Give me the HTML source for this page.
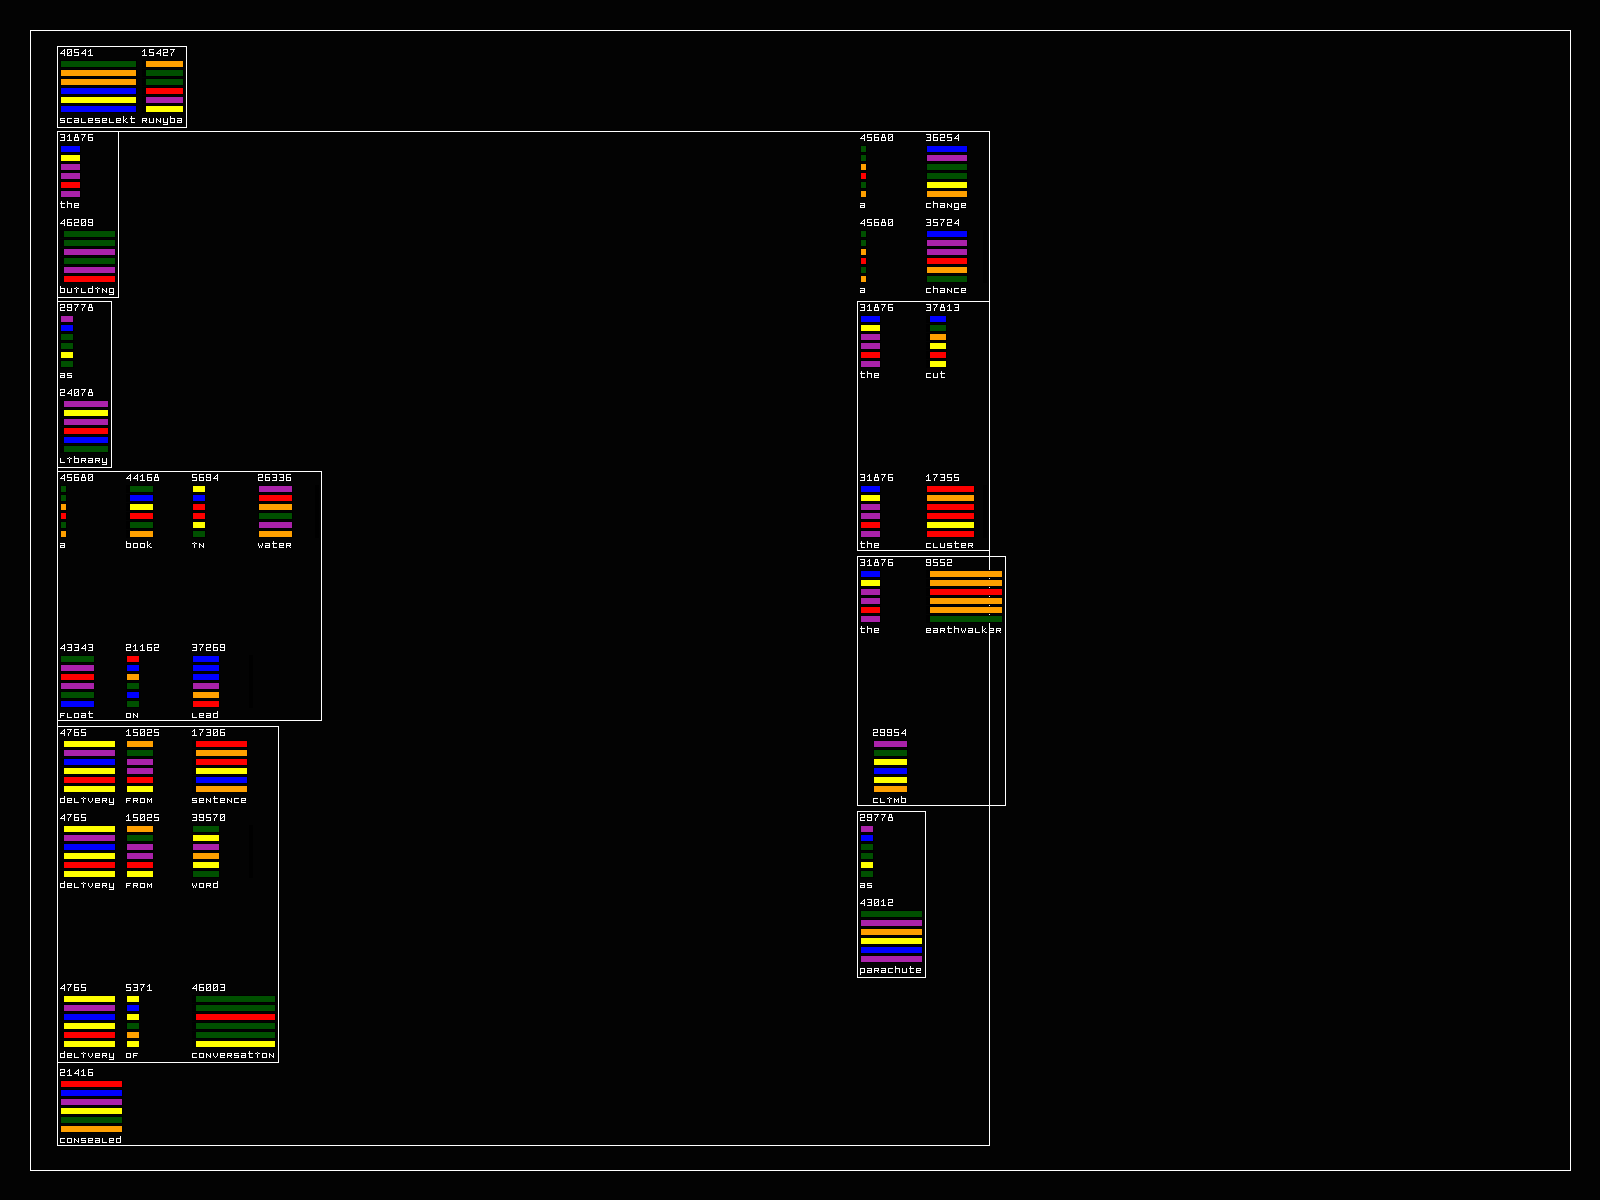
<!DOCTYPE html>
<html lang="en"><head><meta charset="utf-8"><title>token diagram</title>
<style>
html,body{margin:0;padding:0;background:#030303;overflow:hidden;font-family:"Liberation Mono",monospace}
svg{display:block;position:absolute;left:0;top:0}
.bx{fill:none;stroke:#fff;stroke-width:1}
.t{fill:#fff}
.k{fill:#000}
</style></head><body>
<svg width="1600" height="1200" viewBox="0 0 1600 1200" shape-rendering="crispEdges">
<defs>
<path id="g0" d="M0 0h5v1h-5zM0 1h1v1h-1zM4 1h1v1h-1zM0 2h1v1h-1zM3 2h2v1h-2zM0 3h1v1h-1zM2 3h1v1h-1zM4 3h1v1h-1zM0 4h2v1h-2zM4 4h1v1h-1zM0 5h1v1h-1zM4 5h1v1h-1zM0 6h5v1h-5z"/>
<path id="g1" d="M2 0h1v1h-1zM1 1h2v1h-2zM0 2h1v1h-1zM2 2h1v1h-1zM2 3h1v1h-1zM2 4h1v1h-1zM2 5h1v1h-1zM0 6h5v1h-5z"/>
<path id="g2" d="M0 0h5v1h-5zM0 1h1v1h-1zM4 1h1v1h-1zM4 2h1v1h-1zM0 3h5v1h-5zM0 4h1v1h-1zM0 5h1v1h-1zM0 6h5v1h-5z"/>
<path id="g3" d="M0 0h5v1h-5zM4 1h1v1h-1zM4 2h1v1h-1zM1 3h4v1h-4zM4 4h1v1h-1zM4 5h1v1h-1zM0 6h5v1h-5z"/>
<path id="g4" d="M4 0h1v1h-1zM3 1h2v1h-2zM2 2h1v1h-1zM4 2h1v1h-1zM1 3h1v1h-1zM4 3h1v1h-1zM0 4h5v1h-5zM4 5h1v1h-1zM4 6h1v1h-1z"/>
<path id="g5" d="M0 0h5v1h-5zM0 1h1v1h-1zM0 2h1v1h-1zM0 3h5v1h-5zM4 4h1v1h-1zM4 5h1v1h-1zM0 6h5v1h-5z"/>
<path id="g6" d="M0 0h5v1h-5zM0 1h1v1h-1zM0 2h1v1h-1zM0 3h5v1h-5zM0 4h1v1h-1zM4 4h1v1h-1zM0 5h1v1h-1zM4 5h1v1h-1zM0 6h5v1h-5z"/>
<path id="g7" d="M0 0h5v1h-5zM3 1h1v1h-1zM3 2h1v1h-1zM2 3h1v1h-1zM1 4h1v1h-1zM1 5h1v1h-1zM1 6h1v1h-1z"/>
<path id="g8" d="M1 0h3v1h-3zM1 1h1v1h-1zM3 1h1v1h-1zM1 2h1v1h-1zM3 2h1v1h-1zM0 3h5v1h-5zM0 4h1v1h-1zM4 4h1v1h-1zM0 5h1v1h-1zM4 5h1v1h-1zM0 6h5v1h-5z"/>
<path id="g9" d="M0 0h5v1h-5zM0 1h1v1h-1zM4 1h1v1h-1zM0 2h1v1h-1zM4 2h1v1h-1zM0 3h5v1h-5zM4 4h1v1h-1zM0 5h1v1h-1zM4 5h1v1h-1zM0 6h5v1h-5z"/>
<path id="ga" d="M0 2h5v1h-5zM4 3h1v1h-1zM0 4h5v1h-5zM0 5h1v1h-1zM4 5h1v1h-1zM0 6h5v1h-5z"/>
<path id="gb" d="M0 0h1v1h-1zM0 1h1v1h-1zM0 2h5v1h-5zM0 3h1v1h-1zM4 3h1v1h-1zM0 4h1v1h-1zM4 4h1v1h-1zM0 5h1v1h-1zM4 5h1v1h-1zM0 6h5v1h-5z"/>
<path id="gc" d="M0 2h5v1h-5zM0 3h1v1h-1zM0 4h1v1h-1zM0 5h1v1h-1zM0 6h5v1h-5z"/>
<path id="gd" d="M4 0h1v1h-1zM4 1h1v1h-1zM0 2h5v1h-5zM0 3h1v1h-1zM4 3h1v1h-1zM0 4h1v1h-1zM4 4h1v1h-1zM0 5h1v1h-1zM4 5h1v1h-1zM0 6h5v1h-5z"/>
<path id="ge" d="M0 2h5v1h-5zM0 3h1v1h-1zM4 3h1v1h-1zM0 4h5v1h-5zM0 5h1v1h-1zM0 6h5v1h-5z"/>
<path id="gf" d="M0 2h5v1h-5zM0 3h1v1h-1zM0 4h4v1h-4zM0 5h1v1h-1zM0 6h1v1h-1z"/>
<path id="gg" d="M0 2h5v1h-5zM0 3h1v1h-1zM4 3h1v1h-1zM0 4h1v1h-1zM4 4h1v1h-1zM0 5h1v1h-1zM4 5h1v1h-1zM0 6h5v1h-5zM4 7h1v1h-1zM0 8h5v1h-5z"/>
<path id="gh" d="M0 0h1v1h-1zM0 1h1v1h-1zM0 2h5v1h-5zM0 3h1v1h-1zM4 3h1v1h-1zM0 4h1v1h-1zM4 4h1v1h-1zM0 5h1v1h-1zM4 5h1v1h-1zM0 6h1v1h-1zM4 6h1v1h-1z"/>
<path id="gi" d="M2 1h1v1h-1zM0 2h2v1h-2zM3 2h2v1h-2zM2 3h1v1h-1zM2 4h1v1h-1zM2 5h1v1h-1zM2 6h1v1h-1z"/>
<path id="gk" d="M0 0h1v1h-1zM0 1h1v1h-1zM0 2h1v1h-1zM3 2h1v1h-1zM0 3h1v1h-1zM2 3h1v1h-1zM0 4h2v1h-2zM0 5h1v1h-1zM2 5h1v1h-1zM0 6h1v1h-1zM3 6h2v1h-2z"/>
<path id="gl" d="M0 2h1v1h-1zM0 3h1v1h-1zM0 4h1v1h-1zM0 5h1v1h-1zM0 6h5v1h-5z"/>
<path id="gm" d="M0 2h1v1h-1zM4 2h1v1h-1zM0 3h2v1h-2zM3 3h2v1h-2zM0 4h1v1h-1zM2 4h1v1h-1zM4 4h1v1h-1zM0 5h1v1h-1zM2 5h1v1h-1zM4 5h1v1h-1zM0 6h1v1h-1zM4 6h1v1h-1z"/>
<path id="gn" d="M0 2h1v1h-1zM4 2h1v1h-1zM0 3h2v1h-2zM4 3h1v1h-1zM0 4h1v1h-1zM2 4h1v1h-1zM4 4h1v1h-1zM0 5h1v1h-1zM3 5h2v1h-2zM0 6h1v1h-1zM4 6h1v1h-1z"/>
<path id="go" d="M0 2h5v1h-5zM0 3h1v1h-1zM4 3h1v1h-1zM0 4h1v1h-1zM4 4h1v1h-1zM0 5h1v1h-1zM4 5h1v1h-1zM0 6h5v1h-5z"/>
<path id="gp" d="M0 2h5v1h-5zM0 3h1v1h-1zM4 3h1v1h-1zM0 4h1v1h-1zM4 4h1v1h-1zM0 5h1v1h-1zM4 5h1v1h-1zM0 6h5v1h-5zM0 7h1v1h-1zM0 8h1v1h-1z"/>
<path id="gr" d="M0 2h5v1h-5zM0 3h1v1h-1zM4 3h1v1h-1zM0 4h5v1h-5zM0 5h1v1h-1zM3 5h1v1h-1zM0 6h1v1h-1zM4 6h1v1h-1z"/>
<path id="gs" d="M0 2h5v1h-5zM0 3h1v1h-1zM0 4h5v1h-5zM4 5h1v1h-1zM0 6h5v1h-5z"/>
<path id="gt" d="M1 0h1v1h-1zM1 1h1v1h-1zM0 2h5v1h-5zM1 3h1v1h-1zM1 4h1v1h-1zM1 5h1v1h-1zM1 6h4v1h-4z"/>
<path id="gu" d="M0 2h1v1h-1zM4 2h1v1h-1zM0 3h1v1h-1zM4 3h1v1h-1zM0 4h1v1h-1zM4 4h1v1h-1zM0 5h1v1h-1zM4 5h1v1h-1zM0 6h5v1h-5z"/>
<path id="gv" d="M0 2h1v1h-1zM4 2h1v1h-1zM0 3h1v1h-1zM4 3h1v1h-1zM0 4h1v1h-1zM4 4h1v1h-1zM1 5h1v1h-1zM3 5h1v1h-1zM2 6h1v1h-1z"/>
<path id="gw" d="M0 2h1v1h-1zM4 2h1v1h-1zM0 3h1v1h-1zM4 3h1v1h-1zM0 4h1v1h-1zM2 4h1v1h-1zM4 4h1v1h-1zM1 5h1v1h-1zM3 5h1v1h-1zM1 6h1v1h-1zM3 6h1v1h-1z"/>
<path id="gy" d="M0 2h1v1h-1zM4 2h1v1h-1zM0 3h1v1h-1zM4 3h1v1h-1zM0 4h1v1h-1zM4 4h1v1h-1zM0 5h1v1h-1zM4 5h1v1h-1zM0 6h5v1h-5zM4 7h1v1h-1zM0 8h5v1h-5z"/>
</defs>
<rect width="1600" height="1200" fill="#030303"/>
<g class="bx">
<rect x="30.5" y="30.5" width="1540" height="1140"/>
<rect x="57.5" y="46.5" width="129" height="81"/>
<rect x="57.5" y="131.5" width="932" height="1014"/>
<rect x="57.5" y="131.5" width="61" height="166"/>
<rect x="57.5" y="301.5" width="54" height="166"/>
<rect x="57.5" y="471.5" width="264" height="249"/>
<rect x="57.5" y="726.5" width="221" height="336"/>
<rect x="857.5" y="301.5" width="132" height="249"/>
<rect x="857.5" y="556.5" width="148" height="249"/>
<rect x="857.5" y="811.5" width="68" height="166"/>
</g>
<g><title>40541 scaleselekt</title>
<rect class="k" x="60" y="60" width="77" height="8"/><rect x="61" y="61" width="75" height="6" fill="#005000"/>
<rect class="k" x="60" y="69" width="77" height="8"/><rect x="61" y="70" width="75" height="6" fill="#ffa000"/>
<rect class="k" x="60" y="78" width="77" height="8"/><rect x="61" y="79" width="75" height="6" fill="#ffa000"/>
<rect class="k" x="60" y="87" width="77" height="8"/><rect x="61" y="88" width="75" height="6" fill="#0000ff"/>
<rect class="k" x="60" y="96" width="77" height="8"/><rect x="61" y="97" width="75" height="6" fill="#ffff00"/>
<rect class="k" x="60" y="105" width="77" height="8"/><rect x="61" y="106" width="75" height="6" fill="#0000ff"/>
<g class="t"><use href="#g4" x="60" y="49"/><use href="#g0" x="67" y="49"/><use href="#g5" x="74" y="49"/><use href="#g4" x="81" y="49"/><use href="#g1" x="88" y="49"/></g>
<g class="t"><use href="#gs" x="60" y="116"/><use href="#gc" x="67" y="116"/><use href="#ga" x="74" y="116"/><use href="#gl" x="81" y="116"/><use href="#ge" x="88" y="116"/><use href="#gs" x="95" y="116"/><use href="#ge" x="102" y="116"/><use href="#gl" x="109" y="116"/><use href="#ge" x="116" y="116"/><use href="#gk" x="123" y="116"/><use href="#gt" x="130" y="116"/></g>
</g>
<g><title>15427 runyba</title>
<rect class="k" x="142" y="60" width="42" height="8"/><rect x="146" y="61" width="37" height="6" fill="#ffa000"/>
<rect class="k" x="142" y="69" width="42" height="8"/><rect x="146" y="70" width="37" height="6" fill="#005000"/>
<rect class="k" x="142" y="78" width="42" height="8"/><rect x="146" y="79" width="37" height="6" fill="#005000"/>
<rect class="k" x="142" y="87" width="42" height="8"/><rect x="146" y="88" width="37" height="6" fill="#ff0000"/>
<rect class="k" x="142" y="96" width="42" height="8"/><rect x="146" y="97" width="37" height="6" fill="#aa22aa"/>
<rect class="k" x="142" y="105" width="42" height="8"/><rect x="146" y="106" width="37" height="6" fill="#ffff00"/>
<g class="t"><use href="#g1" x="142" y="49"/><use href="#g5" x="149" y="49"/><use href="#g4" x="156" y="49"/><use href="#g2" x="163" y="49"/><use href="#g7" x="170" y="49"/></g>
<g class="t"><use href="#gr" x="142" y="116"/><use href="#gu" x="149" y="116"/><use href="#gn" x="156" y="116"/><use href="#gy" x="163" y="116"/><use href="#gb" x="170" y="116"/><use href="#ga" x="177" y="116"/></g>
</g>
<g><title>31876 the</title>
<rect class="k" x="60" y="145" width="21" height="8"/><rect x="61" y="146" width="19" height="6" fill="#0000ff"/>
<rect class="k" x="60" y="154" width="21" height="8"/><rect x="61" y="155" width="19" height="6" fill="#ffff00"/>
<rect class="k" x="60" y="163" width="21" height="8"/><rect x="61" y="164" width="19" height="6" fill="#aa22aa"/>
<rect class="k" x="60" y="172" width="21" height="8"/><rect x="61" y="173" width="19" height="6" fill="#aa22aa"/>
<rect class="k" x="60" y="181" width="21" height="8"/><rect x="61" y="182" width="19" height="6" fill="#ff0000"/>
<rect class="k" x="60" y="190" width="21" height="8"/><rect x="61" y="191" width="19" height="6" fill="#aa22aa"/>
<g class="t"><use href="#g3" x="60" y="134"/><use href="#g1" x="67" y="134"/><use href="#g8" x="74" y="134"/><use href="#g7" x="81" y="134"/><use href="#g6" x="88" y="134"/></g>
<g class="t"><use href="#gt" x="60" y="201"/><use href="#gh" x="67" y="201"/><use href="#ge" x="74" y="201"/></g>
</g>
<g><title>46209 building</title>
<rect class="k" x="60" y="230" width="56" height="8"/><rect x="64" y="231" width="51" height="6" fill="#005000"/>
<rect class="k" x="60" y="239" width="56" height="8"/><rect x="64" y="240" width="51" height="6" fill="#005000"/>
<rect class="k" x="60" y="248" width="56" height="8"/><rect x="64" y="249" width="51" height="6" fill="#aa22aa"/>
<rect class="k" x="60" y="257" width="56" height="8"/><rect x="64" y="258" width="51" height="6" fill="#005000"/>
<rect class="k" x="60" y="266" width="56" height="8"/><rect x="64" y="267" width="51" height="6" fill="#aa22aa"/>
<rect class="k" x="60" y="275" width="56" height="8"/><rect x="64" y="276" width="51" height="6" fill="#ff0000"/>
<g class="t"><use href="#g4" x="60" y="219"/><use href="#g6" x="67" y="219"/><use href="#g2" x="74" y="219"/><use href="#g0" x="81" y="219"/><use href="#g9" x="88" y="219"/></g>
<g class="t"><use href="#gb" x="60" y="286"/><use href="#gu" x="67" y="286"/><use href="#gi" x="74" y="286"/><use href="#gl" x="81" y="286"/><use href="#gd" x="88" y="286"/><use href="#gi" x="95" y="286"/><use href="#gn" x="102" y="286"/><use href="#gg" x="109" y="286"/></g>
</g>
<g><title>29778 as</title>
<rect class="k" x="60" y="315" width="14" height="8"/><rect x="61" y="316" width="12" height="6" fill="#aa22aa"/>
<rect class="k" x="60" y="324" width="14" height="8"/><rect x="61" y="325" width="12" height="6" fill="#0000ff"/>
<rect class="k" x="60" y="333" width="14" height="8"/><rect x="61" y="334" width="12" height="6" fill="#005000"/>
<rect class="k" x="60" y="342" width="14" height="8"/><rect x="61" y="343" width="12" height="6" fill="#005000"/>
<rect class="k" x="60" y="351" width="14" height="8"/><rect x="61" y="352" width="12" height="6" fill="#ffff00"/>
<rect class="k" x="60" y="360" width="14" height="8"/><rect x="61" y="361" width="12" height="6" fill="#005000"/>
<g class="t"><use href="#g2" x="60" y="304"/><use href="#g9" x="67" y="304"/><use href="#g7" x="74" y="304"/><use href="#g7" x="81" y="304"/><use href="#g8" x="88" y="304"/></g>
<g class="t"><use href="#ga" x="60" y="371"/><use href="#gs" x="67" y="371"/></g>
</g>
<g><title>24078 library</title>
<rect class="k" x="60" y="400" width="49" height="8"/><rect x="64" y="401" width="44" height="6" fill="#aa22aa"/>
<rect class="k" x="60" y="409" width="49" height="8"/><rect x="64" y="410" width="44" height="6" fill="#ffff00"/>
<rect class="k" x="60" y="418" width="49" height="8"/><rect x="64" y="419" width="44" height="6" fill="#aa22aa"/>
<rect class="k" x="60" y="427" width="49" height="8"/><rect x="64" y="428" width="44" height="6" fill="#ff0000"/>
<rect class="k" x="60" y="436" width="49" height="8"/><rect x="64" y="437" width="44" height="6" fill="#0000ff"/>
<rect class="k" x="60" y="445" width="49" height="8"/><rect x="64" y="446" width="44" height="6" fill="#005000"/>
<g class="t"><use href="#g2" x="60" y="389"/><use href="#g4" x="67" y="389"/><use href="#g0" x="74" y="389"/><use href="#g7" x="81" y="389"/><use href="#g8" x="88" y="389"/></g>
<g class="t"><use href="#gl" x="60" y="456"/><use href="#gi" x="67" y="456"/><use href="#gb" x="74" y="456"/><use href="#gr" x="81" y="456"/><use href="#ga" x="88" y="456"/><use href="#gr" x="95" y="456"/><use href="#gy" x="102" y="456"/></g>
</g>
<g><title>45680 a</title>
<rect class="k" x="60" y="485" width="7" height="8"/><rect x="61" y="486" width="5" height="6" fill="#005000"/>
<rect class="k" x="60" y="494" width="7" height="8"/><rect x="61" y="495" width="5" height="6" fill="#005000"/>
<rect class="k" x="60" y="503" width="7" height="8"/><rect x="61" y="504" width="5" height="6" fill="#ffa000"/>
<rect class="k" x="60" y="512" width="7" height="8"/><rect x="61" y="513" width="5" height="6" fill="#ff0000"/>
<rect class="k" x="60" y="521" width="7" height="8"/><rect x="61" y="522" width="5" height="6" fill="#005000"/>
<rect class="k" x="60" y="530" width="7" height="8"/><rect x="61" y="531" width="5" height="6" fill="#ffa000"/>
<g class="t"><use href="#g4" x="60" y="474"/><use href="#g5" x="67" y="474"/><use href="#g6" x="74" y="474"/><use href="#g8" x="81" y="474"/><use href="#g0" x="88" y="474"/></g>
<g class="t"><use href="#ga" x="60" y="541"/></g>
</g>
<g><title>44168 book</title>
<rect class="k" x="126" y="485" width="28" height="8"/><rect x="130" y="486" width="23" height="6" fill="#005000"/>
<rect class="k" x="126" y="494" width="28" height="8"/><rect x="130" y="495" width="23" height="6" fill="#0000ff"/>
<rect class="k" x="126" y="503" width="28" height="8"/><rect x="130" y="504" width="23" height="6" fill="#ffff00"/>
<rect class="k" x="126" y="512" width="28" height="8"/><rect x="130" y="513" width="23" height="6" fill="#ff0000"/>
<rect class="k" x="126" y="521" width="28" height="8"/><rect x="130" y="522" width="23" height="6" fill="#005000"/>
<rect class="k" x="126" y="530" width="28" height="8"/><rect x="130" y="531" width="23" height="6" fill="#ffa000"/>
<g class="t"><use href="#g4" x="126" y="474"/><use href="#g4" x="133" y="474"/><use href="#g1" x="140" y="474"/><use href="#g6" x="147" y="474"/><use href="#g8" x="154" y="474"/></g>
<g class="t"><use href="#gb" x="126" y="541"/><use href="#go" x="133" y="541"/><use href="#go" x="140" y="541"/><use href="#gk" x="147" y="541"/></g>
</g>
<g><title>5694 in</title>
<rect class="k" x="192" y="485" width="14" height="8"/><rect x="193" y="486" width="12" height="6" fill="#ffff00"/>
<rect class="k" x="192" y="494" width="14" height="8"/><rect x="193" y="495" width="12" height="6" fill="#0000ff"/>
<rect class="k" x="192" y="503" width="14" height="8"/><rect x="193" y="504" width="12" height="6" fill="#ff0000"/>
<rect class="k" x="192" y="512" width="14" height="8"/><rect x="193" y="513" width="12" height="6" fill="#ff0000"/>
<rect class="k" x="192" y="521" width="14" height="8"/><rect x="193" y="522" width="12" height="6" fill="#ffff00"/>
<rect class="k" x="192" y="530" width="14" height="8"/><rect x="193" y="531" width="12" height="6" fill="#005000"/>
<g class="t"><use href="#g5" x="192" y="474"/><use href="#g6" x="199" y="474"/><use href="#g9" x="206" y="474"/><use href="#g4" x="213" y="474"/></g>
<g class="t"><use href="#gi" x="192" y="541"/><use href="#gn" x="199" y="541"/></g>
</g>
<g><title>26336 water</title>
<rect class="k" x="258" y="485" width="35" height="8"/><rect x="259" y="486" width="33" height="6" fill="#aa22aa"/>
<rect class="k" x="258" y="494" width="35" height="8"/><rect x="259" y="495" width="33" height="6" fill="#ff0000"/>
<rect class="k" x="258" y="503" width="35" height="8"/><rect x="259" y="504" width="33" height="6" fill="#ffa000"/>
<rect class="k" x="258" y="512" width="35" height="8"/><rect x="259" y="513" width="33" height="6" fill="#005000"/>
<rect class="k" x="258" y="521" width="35" height="8"/><rect x="259" y="522" width="33" height="6" fill="#aa22aa"/>
<rect class="k" x="258" y="530" width="35" height="8"/><rect x="259" y="531" width="33" height="6" fill="#ffa000"/>
<rect class="k" x="315" y="485" width="4" height="53"/>
<g class="t"><use href="#g2" x="258" y="474"/><use href="#g6" x="265" y="474"/><use href="#g3" x="272" y="474"/><use href="#g3" x="279" y="474"/><use href="#g6" x="286" y="474"/></g>
<g class="t"><use href="#gw" x="258" y="541"/><use href="#ga" x="265" y="541"/><use href="#gt" x="272" y="541"/><use href="#ge" x="279" y="541"/><use href="#gr" x="286" y="541"/></g>
</g>
<g><title>43343 float</title>
<rect class="k" x="60" y="655" width="35" height="8"/><rect x="61" y="656" width="33" height="6" fill="#005000"/>
<rect class="k" x="60" y="664" width="35" height="8"/><rect x="61" y="665" width="33" height="6" fill="#aa22aa"/>
<rect class="k" x="60" y="673" width="35" height="8"/><rect x="61" y="674" width="33" height="6" fill="#ff0000"/>
<rect class="k" x="60" y="682" width="35" height="8"/><rect x="61" y="683" width="33" height="6" fill="#aa22aa"/>
<rect class="k" x="60" y="691" width="35" height="8"/><rect x="61" y="692" width="33" height="6" fill="#005000"/>
<rect class="k" x="60" y="700" width="35" height="8"/><rect x="61" y="701" width="33" height="6" fill="#0000ff"/>
<g class="t"><use href="#g4" x="60" y="644"/><use href="#g3" x="67" y="644"/><use href="#g3" x="74" y="644"/><use href="#g4" x="81" y="644"/><use href="#g3" x="88" y="644"/></g>
<g class="t"><use href="#gf" x="60" y="711"/><use href="#gl" x="67" y="711"/><use href="#go" x="74" y="711"/><use href="#ga" x="81" y="711"/><use href="#gt" x="88" y="711"/></g>
</g>
<g><title>21162 on</title>
<rect class="k" x="126" y="655" width="14" height="8"/><rect x="127" y="656" width="12" height="6" fill="#ff0000"/>
<rect class="k" x="126" y="664" width="14" height="8"/><rect x="127" y="665" width="12" height="6" fill="#0000ff"/>
<rect class="k" x="126" y="673" width="14" height="8"/><rect x="127" y="674" width="12" height="6" fill="#ffa000"/>
<rect class="k" x="126" y="682" width="14" height="8"/><rect x="127" y="683" width="12" height="6" fill="#005000"/>
<rect class="k" x="126" y="691" width="14" height="8"/><rect x="127" y="692" width="12" height="6" fill="#0000ff"/>
<rect class="k" x="126" y="700" width="14" height="8"/><rect x="127" y="701" width="12" height="6" fill="#005000"/>
<g class="t"><use href="#g2" x="126" y="644"/><use href="#g1" x="133" y="644"/><use href="#g1" x="140" y="644"/><use href="#g6" x="147" y="644"/><use href="#g2" x="154" y="644"/></g>
<g class="t"><use href="#go" x="126" y="711"/><use href="#gn" x="133" y="711"/></g>
</g>
<g><title>37269 lead</title>
<rect class="k" x="192" y="655" width="28" height="8"/><rect x="193" y="656" width="26" height="6" fill="#0000ff"/>
<rect class="k" x="192" y="664" width="28" height="8"/><rect x="193" y="665" width="26" height="6" fill="#0000ff"/>
<rect class="k" x="192" y="673" width="28" height="8"/><rect x="193" y="674" width="26" height="6" fill="#0000ff"/>
<rect class="k" x="192" y="682" width="28" height="8"/><rect x="193" y="683" width="26" height="6" fill="#aa22aa"/>
<rect class="k" x="192" y="691" width="28" height="8"/><rect x="193" y="692" width="26" height="6" fill="#ffa000"/>
<rect class="k" x="192" y="700" width="28" height="8"/><rect x="193" y="701" width="26" height="6" fill="#ff0000"/>
<rect class="k" x="249" y="655" width="4" height="53"/>
<g class="t"><use href="#g3" x="192" y="644"/><use href="#g7" x="199" y="644"/><use href="#g2" x="206" y="644"/><use href="#g6" x="213" y="644"/><use href="#g9" x="220" y="644"/></g>
<g class="t"><use href="#gl" x="192" y="711"/><use href="#ge" x="199" y="711"/><use href="#ga" x="206" y="711"/><use href="#gd" x="213" y="711"/></g>
</g>
<g><title>4765 delivery</title>
<rect class="k" x="60" y="740" width="56" height="8"/><rect x="64" y="741" width="51" height="6" fill="#ffff00"/>
<rect class="k" x="60" y="749" width="56" height="8"/><rect x="64" y="750" width="51" height="6" fill="#aa22aa"/>
<rect class="k" x="60" y="758" width="56" height="8"/><rect x="64" y="759" width="51" height="6" fill="#0000ff"/>
<rect class="k" x="60" y="767" width="56" height="8"/><rect x="64" y="768" width="51" height="6" fill="#ffff00"/>
<rect class="k" x="60" y="776" width="56" height="8"/><rect x="64" y="777" width="51" height="6" fill="#ff0000"/>
<rect class="k" x="60" y="785" width="56" height="8"/><rect x="64" y="786" width="51" height="6" fill="#ffff00"/>
<g class="t"><use href="#g4" x="60" y="729"/><use href="#g7" x="67" y="729"/><use href="#g6" x="74" y="729"/><use href="#g5" x="81" y="729"/></g>
<g class="t"><use href="#gd" x="60" y="796"/><use href="#ge" x="67" y="796"/><use href="#gl" x="74" y="796"/><use href="#gi" x="81" y="796"/><use href="#gv" x="88" y="796"/><use href="#ge" x="95" y="796"/><use href="#gr" x="102" y="796"/><use href="#gy" x="109" y="796"/></g>
</g>
<g><title>15025 from</title>
<rect class="k" x="126" y="740" width="28" height="8"/><rect x="127" y="741" width="26" height="6" fill="#ffa000"/>
<rect class="k" x="126" y="749" width="28" height="8"/><rect x="127" y="750" width="26" height="6" fill="#005000"/>
<rect class="k" x="126" y="758" width="28" height="8"/><rect x="127" y="759" width="26" height="6" fill="#aa22aa"/>
<rect class="k" x="126" y="767" width="28" height="8"/><rect x="127" y="768" width="26" height="6" fill="#aa22aa"/>
<rect class="k" x="126" y="776" width="28" height="8"/><rect x="127" y="777" width="26" height="6" fill="#ff0000"/>
<rect class="k" x="126" y="785" width="28" height="8"/><rect x="127" y="786" width="26" height="6" fill="#ffff00"/>
<g class="t"><use href="#g1" x="126" y="729"/><use href="#g5" x="133" y="729"/><use href="#g0" x="140" y="729"/><use href="#g2" x="147" y="729"/><use href="#g5" x="154" y="729"/></g>
<g class="t"><use href="#gf" x="126" y="796"/><use href="#gr" x="133" y="796"/><use href="#go" x="140" y="796"/><use href="#gm" x="147" y="796"/></g>
</g>
<g><title>17306 sentence</title>
<rect class="k" x="192" y="740" width="56" height="8"/><rect x="196" y="741" width="51" height="6" fill="#ff0000"/>
<rect class="k" x="192" y="749" width="56" height="8"/><rect x="196" y="750" width="51" height="6" fill="#ffa000"/>
<rect class="k" x="192" y="758" width="56" height="8"/><rect x="196" y="759" width="51" height="6" fill="#ff0000"/>
<rect class="k" x="192" y="767" width="56" height="8"/><rect x="196" y="768" width="51" height="6" fill="#ffff00"/>
<rect class="k" x="192" y="776" width="56" height="8"/><rect x="196" y="777" width="51" height="6" fill="#0000ff"/>
<rect class="k" x="192" y="785" width="56" height="8"/><rect x="196" y="786" width="51" height="6" fill="#ffa000"/>
<g class="t"><use href="#g1" x="192" y="729"/><use href="#g7" x="199" y="729"/><use href="#g3" x="206" y="729"/><use href="#g0" x="213" y="729"/><use href="#g6" x="220" y="729"/></g>
<g class="t"><use href="#gs" x="192" y="796"/><use href="#ge" x="199" y="796"/><use href="#gn" x="206" y="796"/><use href="#gt" x="213" y="796"/><use href="#ge" x="220" y="796"/><use href="#gn" x="227" y="796"/><use href="#gc" x="234" y="796"/><use href="#ge" x="241" y="796"/></g>
</g>
<g><title>4765 delivery</title>
<rect class="k" x="60" y="825" width="56" height="8"/><rect x="64" y="826" width="51" height="6" fill="#ffff00"/>
<rect class="k" x="60" y="834" width="56" height="8"/><rect x="64" y="835" width="51" height="6" fill="#aa22aa"/>
<rect class="k" x="60" y="843" width="56" height="8"/><rect x="64" y="844" width="51" height="6" fill="#0000ff"/>
<rect class="k" x="60" y="852" width="56" height="8"/><rect x="64" y="853" width="51" height="6" fill="#ffff00"/>
<rect class="k" x="60" y="861" width="56" height="8"/><rect x="64" y="862" width="51" height="6" fill="#ff0000"/>
<rect class="k" x="60" y="870" width="56" height="8"/><rect x="64" y="871" width="51" height="6" fill="#ffff00"/>
<g class="t"><use href="#g4" x="60" y="814"/><use href="#g7" x="67" y="814"/><use href="#g6" x="74" y="814"/><use href="#g5" x="81" y="814"/></g>
<g class="t"><use href="#gd" x="60" y="881"/><use href="#ge" x="67" y="881"/><use href="#gl" x="74" y="881"/><use href="#gi" x="81" y="881"/><use href="#gv" x="88" y="881"/><use href="#ge" x="95" y="881"/><use href="#gr" x="102" y="881"/><use href="#gy" x="109" y="881"/></g>
</g>
<g><title>15025 from</title>
<rect class="k" x="126" y="825" width="28" height="8"/><rect x="127" y="826" width="26" height="6" fill="#ffa000"/>
<rect class="k" x="126" y="834" width="28" height="8"/><rect x="127" y="835" width="26" height="6" fill="#005000"/>
<rect class="k" x="126" y="843" width="28" height="8"/><rect x="127" y="844" width="26" height="6" fill="#aa22aa"/>
<rect class="k" x="126" y="852" width="28" height="8"/><rect x="127" y="853" width="26" height="6" fill="#aa22aa"/>
<rect class="k" x="126" y="861" width="28" height="8"/><rect x="127" y="862" width="26" height="6" fill="#ff0000"/>
<rect class="k" x="126" y="870" width="28" height="8"/><rect x="127" y="871" width="26" height="6" fill="#ffff00"/>
<g class="t"><use href="#g1" x="126" y="814"/><use href="#g5" x="133" y="814"/><use href="#g0" x="140" y="814"/><use href="#g2" x="147" y="814"/><use href="#g5" x="154" y="814"/></g>
<g class="t"><use href="#gf" x="126" y="881"/><use href="#gr" x="133" y="881"/><use href="#go" x="140" y="881"/><use href="#gm" x="147" y="881"/></g>
</g>
<g><title>39570 word</title>
<rect class="k" x="192" y="825" width="28" height="8"/><rect x="193" y="826" width="26" height="6" fill="#005000"/>
<rect class="k" x="192" y="834" width="28" height="8"/><rect x="193" y="835" width="26" height="6" fill="#ffff00"/>
<rect class="k" x="192" y="843" width="28" height="8"/><rect x="193" y="844" width="26" height="6" fill="#aa22aa"/>
<rect class="k" x="192" y="852" width="28" height="8"/><rect x="193" y="853" width="26" height="6" fill="#ffa000"/>
<rect class="k" x="192" y="861" width="28" height="8"/><rect x="193" y="862" width="26" height="6" fill="#ffff00"/>
<rect class="k" x="192" y="870" width="28" height="8"/><rect x="193" y="871" width="26" height="6" fill="#005000"/>
<rect class="k" x="249" y="825" width="4" height="53"/>
<g class="t"><use href="#g3" x="192" y="814"/><use href="#g9" x="199" y="814"/><use href="#g5" x="206" y="814"/><use href="#g7" x="213" y="814"/><use href="#g0" x="220" y="814"/></g>
<g class="t"><use href="#gw" x="192" y="881"/><use href="#go" x="199" y="881"/><use href="#gr" x="206" y="881"/><use href="#gd" x="213" y="881"/></g>
</g>
<g><title>4765 delivery</title>
<rect class="k" x="60" y="995" width="56" height="8"/><rect x="64" y="996" width="51" height="6" fill="#ffff00"/>
<rect class="k" x="60" y="1004" width="56" height="8"/><rect x="64" y="1005" width="51" height="6" fill="#aa22aa"/>
<rect class="k" x="60" y="1013" width="56" height="8"/><rect x="64" y="1014" width="51" height="6" fill="#0000ff"/>
<rect class="k" x="60" y="1022" width="56" height="8"/><rect x="64" y="1023" width="51" height="6" fill="#ffff00"/>
<rect class="k" x="60" y="1031" width="56" height="8"/><rect x="64" y="1032" width="51" height="6" fill="#ff0000"/>
<rect class="k" x="60" y="1040" width="56" height="8"/><rect x="64" y="1041" width="51" height="6" fill="#ffff00"/>
<g class="t"><use href="#g4" x="60" y="984"/><use href="#g7" x="67" y="984"/><use href="#g6" x="74" y="984"/><use href="#g5" x="81" y="984"/></g>
<g class="t"><use href="#gd" x="60" y="1051"/><use href="#ge" x="67" y="1051"/><use href="#gl" x="74" y="1051"/><use href="#gi" x="81" y="1051"/><use href="#gv" x="88" y="1051"/><use href="#ge" x="95" y="1051"/><use href="#gr" x="102" y="1051"/><use href="#gy" x="109" y="1051"/></g>
</g>
<g><title>5371 of</title>
<rect class="k" x="126" y="995" width="14" height="8"/><rect x="127" y="996" width="12" height="6" fill="#ffff00"/>
<rect class="k" x="126" y="1004" width="14" height="8"/><rect x="127" y="1005" width="12" height="6" fill="#0000ff"/>
<rect class="k" x="126" y="1013" width="14" height="8"/><rect x="127" y="1014" width="12" height="6" fill="#ffff00"/>
<rect class="k" x="126" y="1022" width="14" height="8"/><rect x="127" y="1023" width="12" height="6" fill="#005000"/>
<rect class="k" x="126" y="1031" width="14" height="8"/><rect x="127" y="1032" width="12" height="6" fill="#ffa000"/>
<rect class="k" x="126" y="1040" width="14" height="8"/><rect x="127" y="1041" width="12" height="6" fill="#ffff00"/>
<g class="t"><use href="#g5" x="126" y="984"/><use href="#g3" x="133" y="984"/><use href="#g7" x="140" y="984"/><use href="#g1" x="147" y="984"/></g>
<g class="t"><use href="#go" x="126" y="1051"/><use href="#gf" x="133" y="1051"/></g>
</g>
<g><title>46003 conversation</title>
<rect class="k" x="192" y="995" width="84" height="8"/><rect x="196" y="996" width="79" height="6" fill="#005000"/>
<rect class="k" x="192" y="1004" width="84" height="8"/><rect x="196" y="1005" width="79" height="6" fill="#005000"/>
<rect class="k" x="192" y="1013" width="84" height="8"/><rect x="196" y="1014" width="79" height="6" fill="#ff0000"/>
<rect class="k" x="192" y="1022" width="84" height="8"/><rect x="196" y="1023" width="79" height="6" fill="#005000"/>
<rect class="k" x="192" y="1031" width="84" height="8"/><rect x="196" y="1032" width="79" height="6" fill="#005000"/>
<rect class="k" x="192" y="1040" width="84" height="8"/><rect x="196" y="1041" width="79" height="6" fill="#ffff00"/>
<g class="t"><use href="#g4" x="192" y="984"/><use href="#g6" x="199" y="984"/><use href="#g0" x="206" y="984"/><use href="#g0" x="213" y="984"/><use href="#g3" x="220" y="984"/></g>
<g class="t"><use href="#gc" x="192" y="1051"/><use href="#go" x="199" y="1051"/><use href="#gn" x="206" y="1051"/><use href="#gv" x="213" y="1051"/><use href="#ge" x="220" y="1051"/><use href="#gr" x="227" y="1051"/><use href="#gs" x="234" y="1051"/><use href="#ga" x="241" y="1051"/><use href="#gt" x="248" y="1051"/><use href="#gi" x="255" y="1051"/><use href="#go" x="262" y="1051"/><use href="#gn" x="269" y="1051"/></g>
</g>
<g><title>21416 consealed</title>
<rect class="k" x="60" y="1080" width="63" height="8"/><rect x="61" y="1081" width="61" height="6" fill="#ff0000"/>
<rect class="k" x="60" y="1089" width="63" height="8"/><rect x="61" y="1090" width="61" height="6" fill="#0000ff"/>
<rect class="k" x="60" y="1098" width="63" height="8"/><rect x="61" y="1099" width="61" height="6" fill="#aa22aa"/>
<rect class="k" x="60" y="1107" width="63" height="8"/><rect x="61" y="1108" width="61" height="6" fill="#ffff00"/>
<rect class="k" x="60" y="1116" width="63" height="8"/><rect x="61" y="1117" width="61" height="6" fill="#005000"/>
<rect class="k" x="60" y="1125" width="63" height="8"/><rect x="61" y="1126" width="61" height="6" fill="#ffa000"/>
<g class="t"><use href="#g2" x="60" y="1069"/><use href="#g1" x="67" y="1069"/><use href="#g4" x="74" y="1069"/><use href="#g1" x="81" y="1069"/><use href="#g6" x="88" y="1069"/></g>
<g class="t"><use href="#gc" x="60" y="1136"/><use href="#go" x="67" y="1136"/><use href="#gn" x="74" y="1136"/><use href="#gs" x="81" y="1136"/><use href="#ge" x="88" y="1136"/><use href="#ga" x="95" y="1136"/><use href="#gl" x="102" y="1136"/><use href="#ge" x="109" y="1136"/><use href="#gd" x="116" y="1136"/></g>
</g>
<g><title>45680 a</title>
<rect class="k" x="860" y="145" width="7" height="8"/><rect x="861" y="146" width="5" height="6" fill="#005000"/>
<rect class="k" x="860" y="154" width="7" height="8"/><rect x="861" y="155" width="5" height="6" fill="#005000"/>
<rect class="k" x="860" y="163" width="7" height="8"/><rect x="861" y="164" width="5" height="6" fill="#ffa000"/>
<rect class="k" x="860" y="172" width="7" height="8"/><rect x="861" y="173" width="5" height="6" fill="#ff0000"/>
<rect class="k" x="860" y="181" width="7" height="8"/><rect x="861" y="182" width="5" height="6" fill="#005000"/>
<rect class="k" x="860" y="190" width="7" height="8"/><rect x="861" y="191" width="5" height="6" fill="#ffa000"/>
<g class="t"><use href="#g4" x="860" y="134"/><use href="#g5" x="867" y="134"/><use href="#g6" x="874" y="134"/><use href="#g8" x="881" y="134"/><use href="#g0" x="888" y="134"/></g>
<g class="t"><use href="#ga" x="860" y="201"/></g>
</g>
<g><title>36254 change</title>
<rect class="k" x="926" y="145" width="42" height="8"/><rect x="927" y="146" width="40" height="6" fill="#0000ff"/>
<rect class="k" x="926" y="154" width="42" height="8"/><rect x="927" y="155" width="40" height="6" fill="#aa22aa"/>
<rect class="k" x="926" y="163" width="42" height="8"/><rect x="927" y="164" width="40" height="6" fill="#005000"/>
<rect class="k" x="926" y="172" width="42" height="8"/><rect x="927" y="173" width="40" height="6" fill="#005000"/>
<rect class="k" x="926" y="181" width="42" height="8"/><rect x="927" y="182" width="40" height="6" fill="#ffff00"/>
<rect class="k" x="926" y="190" width="42" height="8"/><rect x="927" y="191" width="40" height="6" fill="#ffa000"/>
<g class="t"><use href="#g3" x="926" y="134"/><use href="#g6" x="933" y="134"/><use href="#g2" x="940" y="134"/><use href="#g5" x="947" y="134"/><use href="#g4" x="954" y="134"/></g>
<g class="t"><use href="#gc" x="926" y="201"/><use href="#gh" x="933" y="201"/><use href="#ga" x="940" y="201"/><use href="#gn" x="947" y="201"/><use href="#gg" x="954" y="201"/><use href="#ge" x="961" y="201"/></g>
</g>
<g><title>45680 a</title>
<rect class="k" x="860" y="230" width="7" height="8"/><rect x="861" y="231" width="5" height="6" fill="#005000"/>
<rect class="k" x="860" y="239" width="7" height="8"/><rect x="861" y="240" width="5" height="6" fill="#005000"/>
<rect class="k" x="860" y="248" width="7" height="8"/><rect x="861" y="249" width="5" height="6" fill="#ffa000"/>
<rect class="k" x="860" y="257" width="7" height="8"/><rect x="861" y="258" width="5" height="6" fill="#ff0000"/>
<rect class="k" x="860" y="266" width="7" height="8"/><rect x="861" y="267" width="5" height="6" fill="#005000"/>
<rect class="k" x="860" y="275" width="7" height="8"/><rect x="861" y="276" width="5" height="6" fill="#ffa000"/>
<g class="t"><use href="#g4" x="860" y="219"/><use href="#g5" x="867" y="219"/><use href="#g6" x="874" y="219"/><use href="#g8" x="881" y="219"/><use href="#g0" x="888" y="219"/></g>
<g class="t"><use href="#ga" x="860" y="286"/></g>
</g>
<g><title>35724 chance</title>
<rect class="k" x="926" y="230" width="42" height="8"/><rect x="927" y="231" width="40" height="6" fill="#0000ff"/>
<rect class="k" x="926" y="239" width="42" height="8"/><rect x="927" y="240" width="40" height="6" fill="#aa22aa"/>
<rect class="k" x="926" y="248" width="42" height="8"/><rect x="927" y="249" width="40" height="6" fill="#aa22aa"/>
<rect class="k" x="926" y="257" width="42" height="8"/><rect x="927" y="258" width="40" height="6" fill="#ff0000"/>
<rect class="k" x="926" y="266" width="42" height="8"/><rect x="927" y="267" width="40" height="6" fill="#ffa000"/>
<rect class="k" x="926" y="275" width="42" height="8"/><rect x="927" y="276" width="40" height="6" fill="#005000"/>
<rect class="k" x="983" y="230" width="4" height="53"/>
<g class="t"><use href="#g3" x="926" y="219"/><use href="#g5" x="933" y="219"/><use href="#g7" x="940" y="219"/><use href="#g2" x="947" y="219"/><use href="#g4" x="954" y="219"/></g>
<g class="t"><use href="#gc" x="926" y="286"/><use href="#gh" x="933" y="286"/><use href="#ga" x="940" y="286"/><use href="#gn" x="947" y="286"/><use href="#gc" x="954" y="286"/><use href="#ge" x="961" y="286"/></g>
</g>
<g><title>31876 the</title>
<rect class="k" x="860" y="315" width="21" height="8"/><rect x="861" y="316" width="19" height="6" fill="#0000ff"/>
<rect class="k" x="860" y="324" width="21" height="8"/><rect x="861" y="325" width="19" height="6" fill="#ffff00"/>
<rect class="k" x="860" y="333" width="21" height="8"/><rect x="861" y="334" width="19" height="6" fill="#aa22aa"/>
<rect class="k" x="860" y="342" width="21" height="8"/><rect x="861" y="343" width="19" height="6" fill="#aa22aa"/>
<rect class="k" x="860" y="351" width="21" height="8"/><rect x="861" y="352" width="19" height="6" fill="#ff0000"/>
<rect class="k" x="860" y="360" width="21" height="8"/><rect x="861" y="361" width="19" height="6" fill="#aa22aa"/>
<g class="t"><use href="#g3" x="860" y="304"/><use href="#g1" x="867" y="304"/><use href="#g8" x="874" y="304"/><use href="#g7" x="881" y="304"/><use href="#g6" x="888" y="304"/></g>
<g class="t"><use href="#gt" x="860" y="371"/><use href="#gh" x="867" y="371"/><use href="#ge" x="874" y="371"/></g>
</g>
<g><title>37813 cut</title>
<rect class="k" x="926" y="315" width="21" height="8"/><rect x="930" y="316" width="16" height="6" fill="#0000ff"/>
<rect class="k" x="926" y="324" width="21" height="8"/><rect x="930" y="325" width="16" height="6" fill="#005000"/>
<rect class="k" x="926" y="333" width="21" height="8"/><rect x="930" y="334" width="16" height="6" fill="#ffa000"/>
<rect class="k" x="926" y="342" width="21" height="8"/><rect x="930" y="343" width="16" height="6" fill="#ffff00"/>
<rect class="k" x="926" y="351" width="21" height="8"/><rect x="930" y="352" width="16" height="6" fill="#ff0000"/>
<rect class="k" x="926" y="360" width="21" height="8"/><rect x="930" y="361" width="16" height="6" fill="#ffff00"/>
<g class="t"><use href="#g3" x="926" y="304"/><use href="#g7" x="933" y="304"/><use href="#g8" x="940" y="304"/><use href="#g1" x="947" y="304"/><use href="#g3" x="954" y="304"/></g>
<g class="t"><use href="#gc" x="926" y="371"/><use href="#gu" x="933" y="371"/><use href="#gt" x="940" y="371"/></g>
</g>
<g><title>31876 the</title>
<rect class="k" x="860" y="485" width="21" height="8"/><rect x="861" y="486" width="19" height="6" fill="#0000ff"/>
<rect class="k" x="860" y="494" width="21" height="8"/><rect x="861" y="495" width="19" height="6" fill="#ffff00"/>
<rect class="k" x="860" y="503" width="21" height="8"/><rect x="861" y="504" width="19" height="6" fill="#aa22aa"/>
<rect class="k" x="860" y="512" width="21" height="8"/><rect x="861" y="513" width="19" height="6" fill="#aa22aa"/>
<rect class="k" x="860" y="521" width="21" height="8"/><rect x="861" y="522" width="19" height="6" fill="#ff0000"/>
<rect class="k" x="860" y="530" width="21" height="8"/><rect x="861" y="531" width="19" height="6" fill="#aa22aa"/>
<g class="t"><use href="#g3" x="860" y="474"/><use href="#g1" x="867" y="474"/><use href="#g8" x="874" y="474"/><use href="#g7" x="881" y="474"/><use href="#g6" x="888" y="474"/></g>
<g class="t"><use href="#gt" x="860" y="541"/><use href="#gh" x="867" y="541"/><use href="#ge" x="874" y="541"/></g>
</g>
<g><title>17355 cluster</title>
<rect class="k" x="926" y="485" width="49" height="8"/><rect x="927" y="486" width="47" height="6" fill="#ff0000"/>
<rect class="k" x="926" y="494" width="49" height="8"/><rect x="927" y="495" width="47" height="6" fill="#ffa000"/>
<rect class="k" x="926" y="503" width="49" height="8"/><rect x="927" y="504" width="47" height="6" fill="#ff0000"/>
<rect class="k" x="926" y="512" width="49" height="8"/><rect x="927" y="513" width="47" height="6" fill="#ff0000"/>
<rect class="k" x="926" y="521" width="49" height="8"/><rect x="927" y="522" width="47" height="6" fill="#ffff00"/>
<rect class="k" x="926" y="530" width="49" height="8"/><rect x="927" y="531" width="47" height="6" fill="#ff0000"/>
<rect class="k" x="983" y="485" width="4" height="53"/>
<g class="t"><use href="#g1" x="926" y="474"/><use href="#g7" x="933" y="474"/><use href="#g3" x="940" y="474"/><use href="#g5" x="947" y="474"/><use href="#g5" x="954" y="474"/></g>
<g class="t"><use href="#gc" x="926" y="541"/><use href="#gl" x="933" y="541"/><use href="#gu" x="940" y="541"/><use href="#gs" x="947" y="541"/><use href="#gt" x="954" y="541"/><use href="#ge" x="961" y="541"/><use href="#gr" x="968" y="541"/></g>
</g>
<g><title>31876 the</title>
<rect class="k" x="860" y="570" width="21" height="8"/><rect x="861" y="571" width="19" height="6" fill="#0000ff"/>
<rect class="k" x="860" y="579" width="21" height="8"/><rect x="861" y="580" width="19" height="6" fill="#ffff00"/>
<rect class="k" x="860" y="588" width="21" height="8"/><rect x="861" y="589" width="19" height="6" fill="#aa22aa"/>
<rect class="k" x="860" y="597" width="21" height="8"/><rect x="861" y="598" width="19" height="6" fill="#aa22aa"/>
<rect class="k" x="860" y="606" width="21" height="8"/><rect x="861" y="607" width="19" height="6" fill="#ff0000"/>
<rect class="k" x="860" y="615" width="21" height="8"/><rect x="861" y="616" width="19" height="6" fill="#aa22aa"/>
<g class="t"><use href="#g3" x="860" y="559"/><use href="#g1" x="867" y="559"/><use href="#g8" x="874" y="559"/><use href="#g7" x="881" y="559"/><use href="#g6" x="888" y="559"/></g>
<g class="t"><use href="#gt" x="860" y="626"/><use href="#gh" x="867" y="626"/><use href="#ge" x="874" y="626"/></g>
</g>
<g><title>9552 earthwalker</title>
<rect class="k" x="926" y="570" width="77" height="8"/><rect x="930" y="571" width="72" height="6" fill="#ffa000"/>
<rect class="k" x="926" y="579" width="77" height="8"/><rect x="930" y="580" width="72" height="6" fill="#ffa000"/>
<rect class="k" x="926" y="588" width="77" height="8"/><rect x="930" y="589" width="72" height="6" fill="#ff0000"/>
<rect class="k" x="926" y="597" width="77" height="8"/><rect x="930" y="598" width="72" height="6" fill="#ffa000"/>
<rect class="k" x="926" y="606" width="77" height="8"/><rect x="930" y="607" width="72" height="6" fill="#ffa000"/>
<rect class="k" x="926" y="615" width="77" height="8"/><rect x="930" y="616" width="72" height="6" fill="#005000"/>
<g class="t"><use href="#g9" x="926" y="559"/><use href="#g5" x="933" y="559"/><use href="#g5" x="940" y="559"/><use href="#g2" x="947" y="559"/></g>
<g class="t"><use href="#ge" x="926" y="626"/><use href="#ga" x="933" y="626"/><use href="#gr" x="940" y="626"/><use href="#gt" x="947" y="626"/><use href="#gh" x="954" y="626"/><use href="#gw" x="961" y="626"/><use href="#ga" x="968" y="626"/><use href="#gl" x="975" y="626"/><use href="#gk" x="982" y="626"/><use href="#ge" x="989" y="626"/><use href="#gr" x="996" y="626"/></g>
</g>
<g><title>29954 climb</title>
<rect class="k" x="873" y="740" width="35" height="8"/><rect x="874" y="741" width="33" height="6" fill="#aa22aa"/>
<rect class="k" x="873" y="749" width="35" height="8"/><rect x="874" y="750" width="33" height="6" fill="#005000"/>
<rect class="k" x="873" y="758" width="35" height="8"/><rect x="874" y="759" width="33" height="6" fill="#ffff00"/>
<rect class="k" x="873" y="767" width="35" height="8"/><rect x="874" y="768" width="33" height="6" fill="#0000ff"/>
<rect class="k" x="873" y="776" width="35" height="8"/><rect x="874" y="777" width="33" height="6" fill="#ffff00"/>
<rect class="k" x="873" y="785" width="35" height="8"/><rect x="874" y="786" width="33" height="6" fill="#ffa000"/>
<g class="t"><use href="#g2" x="873" y="729"/><use href="#g9" x="880" y="729"/><use href="#g9" x="887" y="729"/><use href="#g5" x="894" y="729"/><use href="#g4" x="901" y="729"/></g>
<g class="t"><use href="#gc" x="873" y="796"/><use href="#gl" x="880" y="796"/><use href="#gi" x="887" y="796"/><use href="#gm" x="894" y="796"/><use href="#gb" x="901" y="796"/></g>
</g>
<g><title>29778 as</title>
<rect class="k" x="860" y="825" width="14" height="8"/><rect x="861" y="826" width="12" height="6" fill="#aa22aa"/>
<rect class="k" x="860" y="834" width="14" height="8"/><rect x="861" y="835" width="12" height="6" fill="#0000ff"/>
<rect class="k" x="860" y="843" width="14" height="8"/><rect x="861" y="844" width="12" height="6" fill="#005000"/>
<rect class="k" x="860" y="852" width="14" height="8"/><rect x="861" y="853" width="12" height="6" fill="#005000"/>
<rect class="k" x="860" y="861" width="14" height="8"/><rect x="861" y="862" width="12" height="6" fill="#ffff00"/>
<rect class="k" x="860" y="870" width="14" height="8"/><rect x="861" y="871" width="12" height="6" fill="#005000"/>
<g class="t"><use href="#g2" x="860" y="814"/><use href="#g9" x="867" y="814"/><use href="#g7" x="874" y="814"/><use href="#g7" x="881" y="814"/><use href="#g8" x="888" y="814"/></g>
<g class="t"><use href="#ga" x="860" y="881"/><use href="#gs" x="867" y="881"/></g>
</g>
<g><title>43012 parachute</title>
<rect class="k" x="860" y="910" width="63" height="8"/><rect x="861" y="911" width="61" height="6" fill="#005000"/>
<rect class="k" x="860" y="919" width="63" height="8"/><rect x="861" y="920" width="61" height="6" fill="#aa22aa"/>
<rect class="k" x="860" y="928" width="63" height="8"/><rect x="861" y="929" width="61" height="6" fill="#ffa000"/>
<rect class="k" x="860" y="937" width="63" height="8"/><rect x="861" y="938" width="61" height="6" fill="#ffff00"/>
<rect class="k" x="860" y="946" width="63" height="8"/><rect x="861" y="947" width="61" height="6" fill="#0000ff"/>
<rect class="k" x="860" y="955" width="63" height="8"/><rect x="861" y="956" width="61" height="6" fill="#aa22aa"/>
<g class="t"><use href="#g4" x="860" y="899"/><use href="#g3" x="867" y="899"/><use href="#g0" x="874" y="899"/><use href="#g1" x="881" y="899"/><use href="#g2" x="888" y="899"/></g>
<g class="t"><use href="#gp" x="860" y="966"/><use href="#ga" x="867" y="966"/><use href="#gr" x="874" y="966"/><use href="#ga" x="881" y="966"/><use href="#gc" x="888" y="966"/><use href="#gh" x="895" y="966"/><use href="#gu" x="902" y="966"/><use href="#gt" x="909" y="966"/><use href="#ge" x="916" y="966"/></g>
</g>
</svg>
</body></html>
